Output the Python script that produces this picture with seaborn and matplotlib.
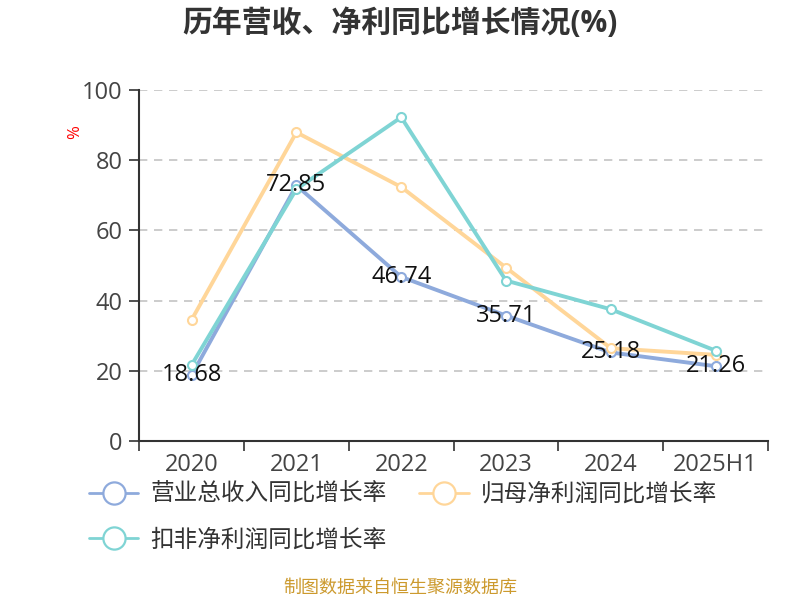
import pandas as pd
import numpy as np
import matplotlib.pyplot as plt
import seaborn as sns
from matplotlib.lines import Line2D

sns.set_style("white")
plt.rcParams['font.family'] = ['Open Sans', 'Noto Sans CJK SC', 'DejaVu Sans']

years = ['2020', '2021', '2022', '2023', '2024', '2025H1']
revenue = [18.68, 72.85, 46.74, 35.71, 25.18, 21.26]
net_profit = [34.5, 88.0, 72.4, 49.4, 26.4, 24.5]
deducted = [21.6, 71.8, 92.3, 45.7, 37.5, 25.7]

names = ['营业总收入同比增长率', '归母净利润同比增长率', '扣非净利润同比增长率']
colors = ['#8eaadc', '#ffd699', '#7fd4d4']
series = [revenue, net_profit, deducted]

fig = plt.figure(figsize=(8, 6), dpi=100)
ax = fig.add_axes([0.174, 0.2655, 0.786, 0.584])

x = np.arange(len(years))
for name, vals, c in zip(names, series, colors):
    df = pd.DataFrame({'x': x, 'y': vals})
    sns.lineplot(data=df, x='x', y='y', ax=ax, color=c, linewidth=2.8,
                 marker='o', markersize=6.5, markerfacecolor='white',
                 markeredgecolor=c, markeredgewidth=1.5, legend=False)

# 数据标签（只有营业总收入）
for xi, v in zip(x, revenue):
    ax.text(xi, v, f'{v:.2f}', ha='center', va='center', fontsize=17, color='#111111', zorder=10)

ax.set_xlim(-0.5, len(years) - 0.5)
ax.set_ylim(0, 100)
ax.set_yticks(range(0, 101, 20))
ax.tick_params(axis='y', labelsize=17, labelcolor='#444444', length=7, width=1.2,
               color='#333333', left=True, pad=5)

ax.set_xticks(np.arange(-0.5, len(years), 1.0))
ax.set_xticklabels([])
ax.set_xticks(x, minor=True)
ax.set_xticklabels(years, minor=True)
ax.tick_params(axis='x', which='major', length=7, width=1.2, color='#333333', bottom=True)
ax.tick_params(axis='x', which='minor', length=0, labelsize=17, labelcolor='#444444', pad=9)

for v in range(20, 101, 20):
    ax.axhline(v, color='#c4c4c4', linestyle=(0, (5, 4)), linewidth=1.2, zorder=0)

for s in ['top', 'right']:
    ax.spines[s].set_visible(False)
for s in ['left', 'bottom']:
    ax.spines[s].set_color('#333333')
    ax.spines[s].set_linewidth(1.5)
ax.set_xlabel('')
ax.set_ylabel('')

fig.text(0.094, 0.78, '%', color='red', fontsize=12, rotation=90, ha='center', va='center')
fig.text(0.5, 0.96, '历年营收、净利同比增长情况(%)', ha='center', va='center',
         fontsize=21.5, fontweight='bold', color='#333333')

handles = [Line2D([0], [0], color=c, linewidth=2, marker='o', markersize=16,
                  markerfacecolor='white', markeredgecolor=c, markeredgewidth=1.6)
           for c in colors]
# 列优先填充，调整顺序使第一行为前两项
order = [0, 2, 1]
fig.legend([handles[i] for i in order], [names[i] for i in order],
           loc='upper left', bbox_to_anchor=(0.111, 0.195), ncol=2,
           frameon=False, fontsize=17, handlelength=2.1, columnspacing=1.4,
           labelspacing=0.9, handletextpad=0.5, labelcolor='#333333',
           borderpad=0, borderaxespad=0)

fig.text(0.5, 0.02, '制图数据来自恒生聚源数据库', ha='center', va='center', fontsize=13, color='#cc9a2e')

fig.savefig('out.png', dpi=100)
